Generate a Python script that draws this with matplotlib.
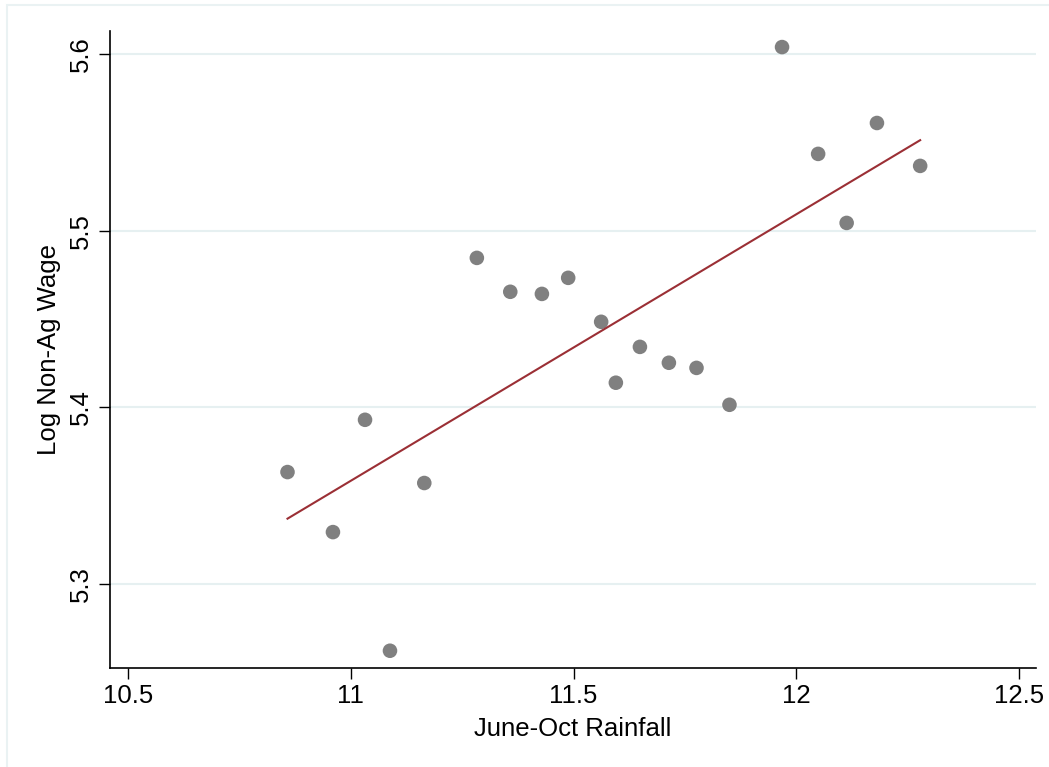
import numpy as np
import matplotlib
matplotlib.use('Agg')
import matplotlib.pyplot as plt
from matplotlib.patches import Rectangle

# data
rainfall = [10.858, 10.960, 11.032, 11.088, 11.165, 11.283, 11.358, 11.429,
            11.488, 11.562, 11.595, 11.649, 11.714, 11.776, 11.850, 11.968,
            12.049, 12.113, 12.181, 12.278]
log_wage = [5.3634, 5.3294, 5.3930, 5.2622, 5.3572, 5.4847, 5.4655, 5.4643,
            5.4734, 5.4485, 5.4140, 5.4343, 5.4253, 5.4224, 5.4015, 5.6041,
            5.5436, 5.5045, 5.5611, 5.5368]
x_ticks = [10.5, 11, 11.5, 12, 12.5]
x_tick_labels = ['10.5', '11', '11.5', '12', '12.5']
y_ticks = [5.3, 5.4, 5.5, 5.6]
y_tick_labels = ['5.3', '5.4', '5.5', '5.6']

plt.rcParams['font.family'] = ['Liberation Sans', 'DejaVu Sans']
FS = 18.5

fig = plt.figure(figsize=(10.49, 7.67), dpi=100)
ax = fig.add_axes([110 / 1049, 1 - 667.7 / 767, 926 / 1049, 636.7 / 767])

# outer light frame (Stata style)
fig.patches.append(Rectangle((7 / 1049, -0.05), 1.2, 1 - 5 / 767 + 0.05,
                             transform=fig.transFigure, fill=False,
                             edgecolor='#EAF2F3', linewidth=1.5))

x = np.array(rainfall)
y = np.array(log_wage)

ax.scatter(x, y, s=110, color='#808080', edgecolors='none', zorder=3)

# linear fit
b, a = np.polyfit(x, y, 1)
xl = np.array([x.min(), x.max()])
ax.plot(xl, a + b * xl, color='#9B2F35', linewidth=1.5, zorder=4)

ax.set_xlim(10.4596, 12.538)
ax.set_ylim(5.2526, 5.6132)
ax.set_xticks(x_ticks)
ax.set_xticklabels(x_tick_labels)
ax.set_yticks(y_ticks)
ax.set_yticklabels(y_tick_labels, rotation=90, va='center')

ax.tick_params(axis='both', length=8, width=1.0, labelsize=FS, pad=4,
               direction='out', color='black')
ax.grid(axis='y', color='#E6F0F1', linewidth=1.5)
ax.set_axisbelow(True)

for s in ['top', 'right']:
    ax.spines[s].set_visible(False)
for s in ['left', 'bottom']:
    ax.spines[s].set_linewidth(1.2)

ax.set_xlabel('June-Oct Rainfall', fontsize=FS, labelpad=6)
ax.set_ylabel('Log Non-Ag Wage', fontsize=FS, labelpad=6)

fig.savefig('out.png', dpi=100)
